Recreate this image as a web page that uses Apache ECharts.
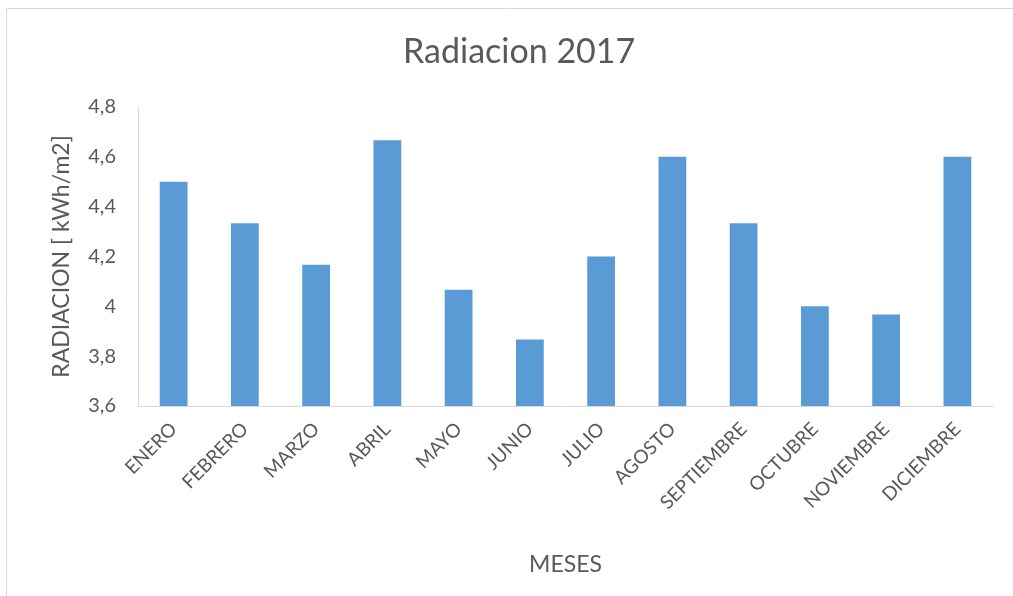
<!DOCTYPE html>
<html>
<head>
<meta charset="utf-8">
<script src="https://cdn.jsdelivr.net/npm/echarts@6/dist/echarts.min.js"></script>
<style>
  html, body { margin: 0; padding: 0; background: #fff; }
  #chart { width: 1013px; height: 596px; }
</style>
</head>
<body>
<div id="chart"></div>
<script>
// Monthly solar radiation, 2017
const months = ['ENERO', 'FEBRERO', 'MARZO', 'ABRIL', 'MAYO', 'JUNIO', 'JULIO',
  'AGOSTO', 'SEPTIEMBRE', 'OCTUBRE', 'NOVIEMBRE', 'DICIEMBRE'];
const radiation = [4.5, 4.333, 4.167, 4.667, 4.067, 3.867, 4.2, 4.6, 4.333, 4.0, 3.967, 4.6];
const titleText = 'Radiacion 2017';
const yName = 'RADIACION [ kWh/m2]';
const xName = 'MESES';

const FONT = 'Lato, "Open Sans", sans-serif';
const TEXT = '#595959';

const chart = echarts.init(document.getElementById('chart'));
chart.setOption({
  animation: false,
  textStyle: { fontFamily: FONT },
  title: {
    text: titleText,
    left: 398,
    top: 30,
    textStyle: { fontFamily: FONT, fontSize: 34, fontWeight: 'normal', color: TEXT }
  },
  graphic: [
    {
      type: 'polyline',
      shape: { points: [[6.5, 596], [6.5, 8.5], [1013, 8.5]] },
      style: { stroke: '#d9d9d9', lineWidth: 1, fill: null }
    }
  ],
  grid: { left: 138, right: 20, top: 107, bottom: 190 },
  xAxis: {
    type: 'category',
    data: months,
    name: xName,
    nameLocation: 'middle',
    nameGap: 147,
    nameTextStyle: { fontFamily: FONT, fontSize: 23, color: TEXT },
    axisLine: { lineStyle: { color: '#d9d9d9', width: 1 } },
    axisTick: { show: false },
    axisLabel: { rotate: 45, fontFamily: FONT, fontSize: 19, color: TEXT, margin: 20 }
  },
  yAxis: {
    type: 'value',
    min: 3.6,
    max: 4.8,
    interval: 0.2,
    name: yName,
    nameLocation: 'middle',
    nameGap: 65,
    nameTextStyle: { fontFamily: FONT, fontSize: 23, color: TEXT },
    axisLine: { show: true, lineStyle: { color: '#d9d9d9', width: 1 } },
    axisTick: { show: false },
    splitLine: { show: false },
    axisLabel: {
      fontFamily: FONT, fontSize: 20, color: TEXT, margin: 22,
      formatter: v => String(+v.toFixed(1)).replace('.', ',')
    }
  },
  series: [{
    type: 'bar',
    data: radiation,
    barWidth: '39%',
    itemStyle: { color: '#5b9bd5' }
  }]
});
</script>
</body>
</html>
